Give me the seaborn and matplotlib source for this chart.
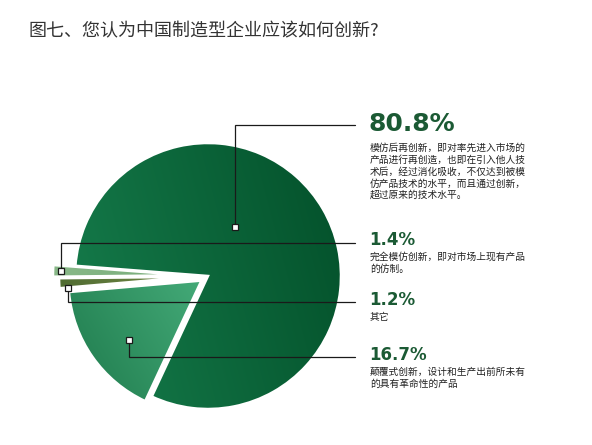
import numpy as np
import matplotlib
matplotlib.use("Agg")
import matplotlib.pyplot as plt
import seaborn as sns

# data
shares = [80.8, 1.4, 1.2, 16.7]
pct_labels = ["80.8%", "1.4%", "1.2%", "16.7%"]
descriptions = [
    ["模仿后再创新，即对率先进入市场的",
     "产品进行再创造，也即在引入他人技",
     "术后，经过消化吸收，不仅达到被模",
     "仿产品技术的水平，而且通过创新，",
     "超过原来的技术水平。"],
    ["完全模仿创新，即对市场上现有产品",
     "的仿制。"],
    ["其它"],
    ["颠覆式创新，设计和生产出前所未有",
     "的具有革命性的产品"],
]
title = "图七、您认为中国制造型企业应该如何创新?"

sns.set_theme(style="white")
plt.rcParams['font.family'] = ['Noto Sans CJK SC', 'DejaVu Sans']

W, H = 592, 445
fig = plt.figure(figsize=(W / 100, H / 100), dpi=100)
ax = fig.add_axes([0, 0, 1, 1])


def Y(y):
    # pixel rows (top-down) -> axis units (bottom-up)
    return H - y


# gradient colours per wedge (start, end, direction in degrees)
grads = [((22, 125, 76), (3, 80, 42), 15),
         ((136, 184, 136), (120, 172, 122), 0),
         ((80, 108, 50), (116, 138, 72), 0),
         ((30, 122, 76), (68, 170, 120), 30)]
explode = [0, 22, 16, 8]

wedges, _ = ax.pie(shares, startangle=245, counterclock=True, radius=133,
                   center=(208, Y(276)), explode=explode,
                   wedgeprops=dict(facecolor='none', edgecolor='white',
                                   linewidth=1.8, zorder=3))

# fill each wedge with a soft linear gradient
for w, (c0, c1, ang) in zip(wedges, grads):
    v = w.get_path().vertices
    x0, y0 = v.min(axis=0)
    x1, y1 = v.max(axis=0)
    xs = np.linspace(x0, x1, 120)
    ys = np.linspace(y0, y1, 120)
    gx, gy = np.meshgrid(xs, ys)
    d = np.array([np.cos(np.radians(ang)), np.sin(np.radians(ang))])
    t = gx * d[0] + gy * d[1]
    t = (t - t.min()) / (t.max() - t.min())
    c0 = np.array(c0) / 255
    c1 = np.array(c1) / 255
    img = c0[None, None, :] * (1 - t[..., None]) + c1[None, None, :] * t[..., None]
    im = ax.imshow(img, extent=(x0, x1, y0, y1), origin='lower',
                   aspect='auto', zorder=2, interpolation='bilinear')
    im.set_clip_path(w)

# leader lines: marker point, elbow row, label row
leaders = [((235, 227), 125), ((61, 271), 243), ((68, 288), 302), ((129, 340), 357)]
line_end = 355
for (mx, my), ly in leaders:
    ax.plot([mx, mx, line_end], [Y(my), Y(ly), Y(ly)], color='#1a1a1a',
            lw=0.9, zorder=4, solid_joinstyle='miter')
    ax.plot([mx], [Y(my)], marker='s', ms=5, mfc='white', mec='#1a1a1a',
            mew=0.9, zorder=5)

# labels on the right
num_rows = [124, 240, 300, 355]
num_sizes = [18, 12, 12, 12]
text_x = 370
for lab, desc, ny, fs in zip(pct_labels, descriptions, num_rows, num_sizes):
    ax.text(text_x - 1, Y(ny), lab, fontsize=fs, fontweight='bold',
            color='#1b5a34', va='center', ha='left', family='DejaVu Sans')
    first = ny + (24 if fs > 14 else 17)
    for i, line in enumerate(desc):
        ax.text(text_x, Y(first + i * 11.8), line, fontsize=7, color='#222222',
                va='center', ha='left')

fig.text(28 / W, 1 - 31 / H, title, fontsize=13, color='#333333',
         va='center', ha='left')

ax.set_xlim(0, W)
ax.set_ylim(0, H)
ax.set_aspect('auto')
ax.axis('off')

fig.savefig('out.png', dpi=100, facecolor='white')
